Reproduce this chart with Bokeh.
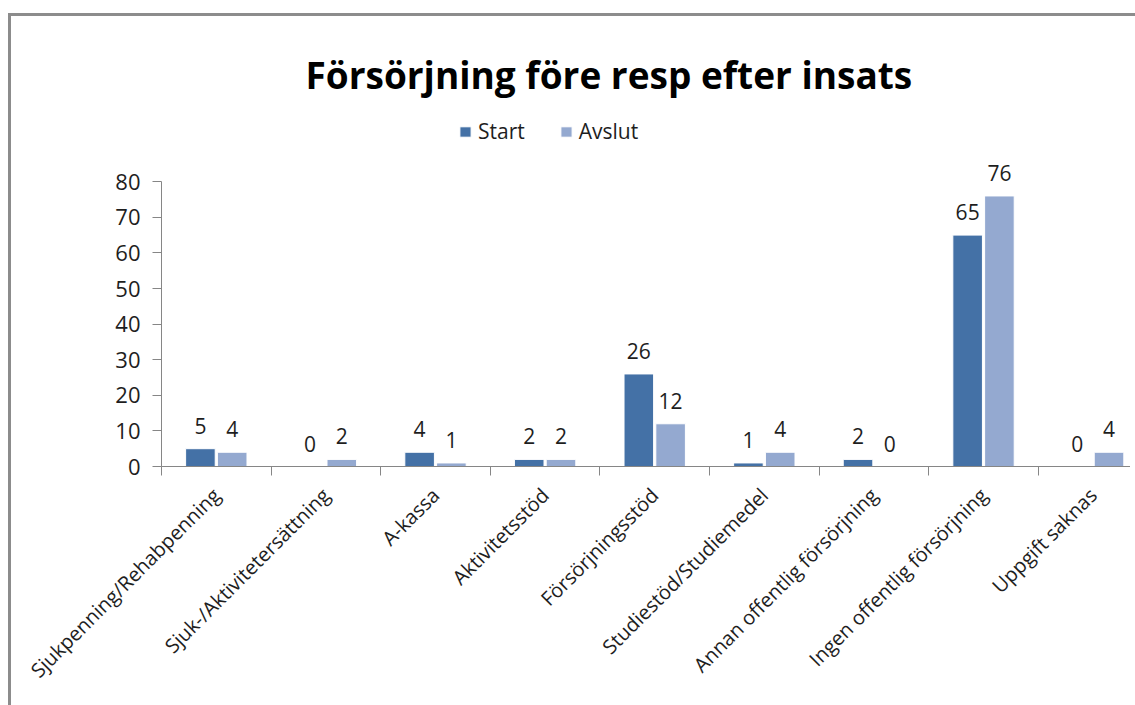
import numpy as np
from bokeh.plotting import figure
from bokeh.models import (Range1d, FixedTicker, ColumnDataSource, Legend, LegendItem,
                          InlineStyleSheet)
from bokeh.core.properties import value
from bokeh.transform import dodge
from bokeh.embed import file_html
from bokeh.resources import INLINE

# ---- data ----
title_text = "Försörjning före resp efter insats"
categories = ["Sjukpenning/Rehabpenning", "Sjuk-/Aktivitetersättning", "A-kassa",
              "Aktivitetsstöd", "Försörjningsstöd", "Studiestöd/Studiemedel",
              "Annan offentlig försörjning", "Ingen offentlig försörjning", "Uppgift saknas"]
start = [5, 0, 4, 2, 26, 1, 2, 65, 0]
avslut = [4, 2, 1, 2, 12, 4, 0, 76, 4]
series_names = ["Start", "Avslut"]
y_ticks = [0, 10, 20, 30, 40, 50, 60, 70, 80]

# ---- styles ----
FONT = "Open Sans"
DARK = "#4471A6"
LIGHT = "#94A9D0"
AXIS = "#868686"
TXT = "#1e1e1e"

pos = list(range(1, len(categories) + 1))
src = ColumnDataSource(dict(
    x=pos, start=start, avslut=avslut,
    start_lbl=[str(v) for v in start], avslut_lbl=[str(v) for v in avslut]))

p = figure(width=1130, height=700,
           x_range=Range1d(0.5, 9.341), y_range=Range1d(0, 100),
           output_backend="svg", toolbar_location=None,
           min_border_left=161, min_border_right=0,
           min_border_top=110, min_border_bottom=234)
p.outline_line_color = None
p.xgrid.visible = False
p.ygrid.visible = False
p.background_fill_color = "white"
p.border_fill_color = "white"

# title
p.title.text = title_text
p.title.text_font = FONT
p.title.text_font_size = "37px"
p.title.text_font_style = "bold"
p.title.text_color = "#000000"
p.title.align = "left"
p.title.offset = 144
p.title.standoff = 21

off = 0.145
w = 0.27
r1 = p.vbar(x=dodge("x", -off, range=p.x_range), top="start", width=w, source=src,
            fill_color=DARK, line_color="white", line_width=1)
r2 = p.vbar(x=dodge("x", off, range=p.x_range), top="avslut", width=w, source=src,
            fill_color=LIGHT, line_color="white", line_width=1)

for col, lbl, o in (("start", "start_lbl", -off), ("avslut", "avslut_lbl", off)):
    p.text(x=dodge("x", o, range=p.x_range), y=col, text=lbl, source=src,
           text_align="center", text_baseline="bottom", y_offset=-15,
           text_font=value(FONT), text_font_size="21px", text_color=TXT)

# axes
xa = p.xaxis[0]
xa.ticker = FixedTicker(ticks=pos, minor_ticks=[i + 0.5 for i in range(0, 10)])
xa.major_label_overrides = {i: c for i, c in zip(pos, categories)}
xa.major_label_orientation = np.pi / 4
xa.major_tick_out = 0
xa.major_tick_in = 0
xa.minor_tick_out = 9
xa.minor_tick_in = 0
xa.minor_tick_line_color = AXIS
xa.axis_line_color = AXIS
xa.major_label_text_font = FONT
xa.major_label_text_font_size = "20px"
xa.major_label_text_color = TXT
xa.major_label_standoff = 16

ya = p.yaxis[0]
ya.ticker = FixedTicker(ticks=y_ticks)
ya.bounds = (0, 80)
ya.major_tick_out = 9
ya.major_tick_in = 0
ya.minor_tick_out = 0
ya.minor_tick_in = 0
ya.major_tick_line_color = AXIS
ya.axis_line_color = AXIS
ya.major_label_text_font = FONT
ya.major_label_text_font_size = "22px"
ya.major_label_text_color = TXT
ya.major_label_standoff = 12

legend = Legend(items=[LegendItem(label=series_names[0], renderers=[r1]),
                       LegendItem(label=series_names[1], renderers=[r2])],
                location=(297, 321), orientation="horizontal",
                glyph_width=14, glyph_height=13, label_standoff=6, spacing=34,
                padding=0, margin=0, border_line_color=None, background_fill_alpha=0,
                label_text_font=FONT, label_text_font_size="21px", label_text_color=TXT)
p.add_layout(legend)

# outer chart border: only its left and top edges fall inside the window
p.stylesheets = [InlineStyleSheet(css=(
    ":host::after { content: ''; position: fixed; left: 8px; top: 13px; width: 1127px; height: 692px;"
    " box-sizing: border-box; border-left: 3px solid #8c8c8c; border-top: 3px solid #8c8c8c;"
    " z-index: 10; pointer-events: none; }"))]

open("out.html", "w").write(file_html(p, INLINE))
